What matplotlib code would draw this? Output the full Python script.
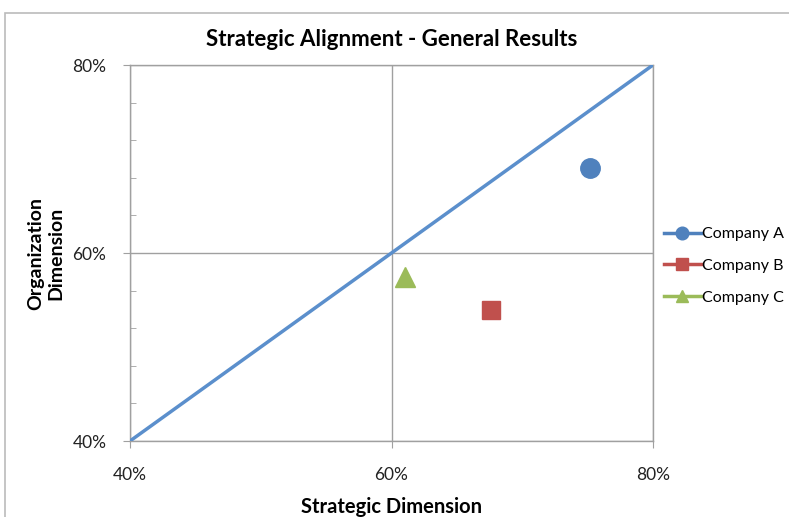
import matplotlib
matplotlib.use("Agg")
import matplotlib.pyplot as plt
from matplotlib.patches import Rectangle
from matplotlib.ticker import FuncFormatter, MultipleLocator

companies = ["Company A", "Company B", "Company C"]
strategic = [0.752, 0.676, 0.610]
organization = [0.690, 0.539, 0.575]
markers = ["o", "s", "^"]
colors = ["#4F81BD", "#C0504D", "#9BBB59"]
diag_x = [0.4, 0.8]
diag_y = [0.4, 0.8]
ticks = [0.4, 0.6, 0.8]

plt.rcParams['font.family'] = ['Lato', 'DejaVu Sans']

fig = plt.figure(figsize=(7.89, 5.17), dpi=100)
fig.patches.append(Rectangle((5/789, -0.2), 1.2, 1.2 - 13/517, transform=fig.transFigure,
                             fill=False, edgecolor="#BBBBBB", linewidth=1.2))
ax = fig.add_axes([130/789, 1-441/517, 523/789, 376/517])

ax.plot(diag_x, diag_y, color="#5B8FCC", linewidth=2.5, zorder=3)
for name, x, y, m, c in zip(companies, strategic, organization, markers, colors):
    ax.plot([x], [y], linestyle="-", marker=m, color=c, markersize=14 if m != "s" else 13,
            linewidth=2.5, label=name, zorder=4)

ax.set_xlim(0.4, 0.8)
ax.set_ylim(0.4, 0.8)
ax.set_xticks(ticks)
ax.set_yticks(ticks)
ax.yaxis.set_minor_locator(MultipleLocator(0.04))
fmt = FuncFormatter(lambda v, p: f"{v*100:.0f}%")
ax.xaxis.set_major_formatter(fmt)
ax.yaxis.set_major_formatter(fmt)
ax.grid(True, which="major", color="#A0A0A0", linewidth=1)
ax.set_axisbelow(True)
for s in ax.spines.values():
    s.set_color("#A0A0A0")
    s.set_linewidth(1)
ax.tick_params(axis="both", which="major", direction="out", length=5, color="#A0A0A0",
               labelsize=12.5, labelcolor="#222222")
ax.tick_params(axis="x", which="major", pad=14)
ax.tick_params(axis="y", which="major", pad=12)
ax.tick_params(axis="y", which="minor", direction="in", length=4, color="#A0A0A0")

ax.set_title("Strategic Alignment - General Results", fontsize=16, fontweight="bold", pad=14)
ax.set_xlabel("Strategic Dimension", fontsize=14.5, fontweight="bold", labelpad=10)
ax.set_ylabel("Organization\nDimension", fontsize=14, fontweight="bold", labelpad=6,
              linespacing=1.2)

leg = ax.legend(loc="upper left", bbox_to_anchor=(664/789, 1-227/517),
                bbox_transform=fig.transFigure, frameon=False, fontsize=11.5,
                handlelength=2.3, handletextpad=0.1, labelspacing=1.1, markerscale=0.65,
                borderaxespad=0, borderpad=0)

fig.savefig("out.png", dpi=100)
